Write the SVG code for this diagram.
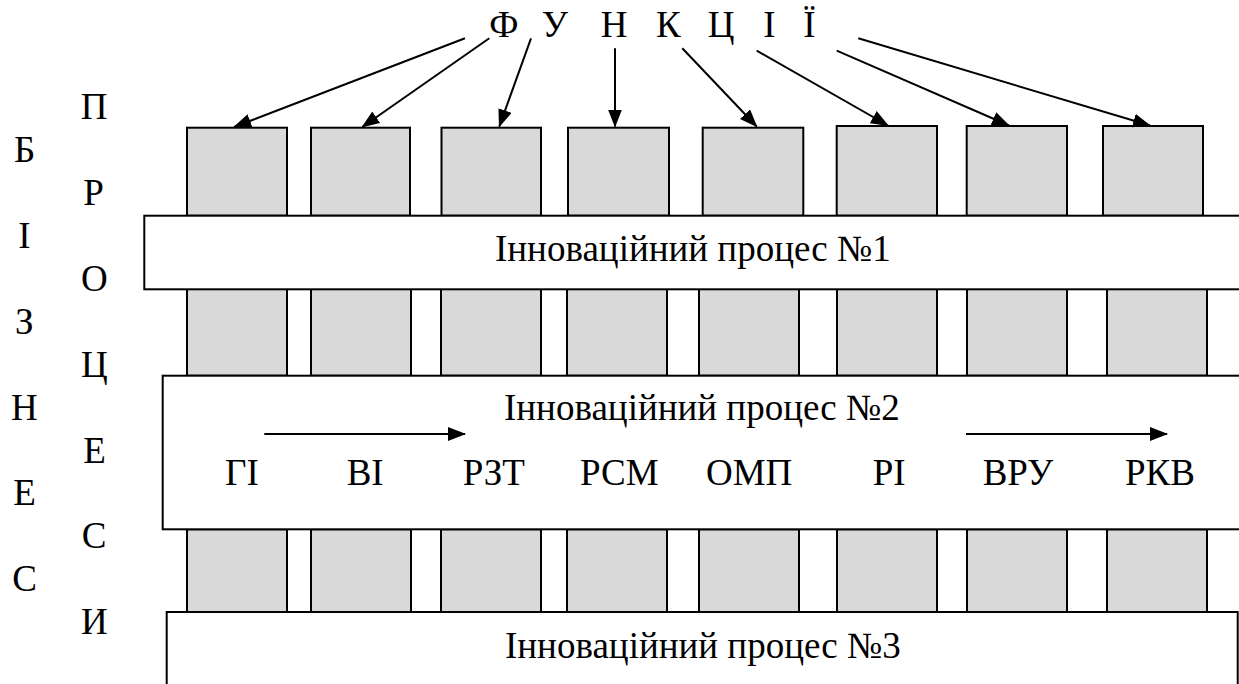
<svg xmlns="http://www.w3.org/2000/svg" width="1239" height="684" viewBox="0 0 1239 684" xml:lang="uk">
<defs>
<style>
svg g text{font-family:'Liberation Serif','Times New Roman',serif !important;font-size:37px;fill:#000;}
</style>
<marker id="ah" markerUnits="userSpaceOnUse" markerWidth="18" markerHeight="14" refX="17" refY="7" orient="auto">
<path d="M0,0 L18,7 L0,14 Z" fill="#000"/>
</marker>
</defs>
<rect width="1239" height="684" fill="#fff"/>

<g id="boxes" fill="#d9d9d9" stroke="#000" stroke-width="2">
<g id="row1">
<rect x="187" y="127.7" width="100" height="88"/>
<rect x="311" y="127.7" width="99" height="88"/>
<rect x="441.5" y="127.7" width="99.5" height="88"/>
<rect x="568" y="127.7" width="101" height="88"/>
<rect x="702.7" y="127.7" width="100.6" height="88"/>
<rect x="836.7" y="126" width="100.3" height="89.7"/>
<rect x="966.7" y="126" width="100.3" height="89.7"/>
<rect x="1103" y="126" width="100" height="89.7"/>
</g>
<g id="row2">
<rect x="187" y="289" width="100" height="86.7"/>
<rect x="311" y="289" width="100" height="86.7"/>
<rect x="441" y="289" width="100" height="86.7"/>
<rect x="567" y="289" width="100" height="86.7"/>
<rect x="699" y="289" width="100" height="86.7"/>
<rect x="837" y="289" width="100" height="86.7"/>
<rect x="967" y="289" width="100" height="86.7"/>
<rect x="1107" y="289" width="100" height="86.7"/>
</g>
<g id="row3">
<rect x="187" y="529.3" width="100" height="82.7"/>
<rect x="311" y="529.3" width="100" height="82.7"/>
<rect x="441" y="529.3" width="100" height="82.7"/>
<rect x="567" y="529.3" width="100" height="82.7"/>
<rect x="699" y="529.3" width="100" height="82.7"/>
<rect x="837" y="529.3" width="100" height="82.7"/>
<rect x="967" y="529.3" width="100" height="82.7"/>
<rect x="1107" y="529.3" width="100" height="82.7"/>
</g>
</g>

<g id="process1">
<rect x="144.3" y="215.7" width="1110" height="73.6" fill="#fff" stroke="#000" stroke-width="2"/>
<text x="495" y="261" font-family="Liberation Serif" font-size="37" style="font-family:'Liberation Serif',serif !important">Інноваційний процес №1</text>
</g>
<g id="process2">
<rect x="162.7" y="375.7" width="1100" height="153.6" fill="#fff" stroke="#000" stroke-width="2"/>
<text x="504" y="420" font-family="Liberation Serif" font-size="37" style="font-family:'Liberation Serif',serif !important">Інноваційний процес №2</text>
<text x="225" y="485" font-family="Liberation Serif" font-size="37" style="font-family:'Liberation Serif',serif !important">ГІ</text>
<text x="346.7" y="485" font-family="Liberation Serif" font-size="37" style="font-family:'Liberation Serif',serif !important">ВІ</text>
<text x="462.7" y="485" font-family="Liberation Serif" font-size="37" style="font-family:'Liberation Serif',serif !important">РЗТ</text>
<text x="580" y="485" font-family="Liberation Serif" font-size="37" style="font-family:'Liberation Serif',serif !important">РСМ</text>
<text x="706" y="485" font-family="Liberation Serif" font-size="37" style="font-family:'Liberation Serif',serif !important">ОМП</text>
<text x="872.7" y="485" font-family="Liberation Serif" font-size="37" style="font-family:'Liberation Serif',serif !important">РІ</text>
<text x="982.7" y="485" font-family="Liberation Serif" font-size="37" style="font-family:'Liberation Serif',serif !important">ВРУ</text>
<text x="1125" y="485" font-family="Liberation Serif" font-size="37" style="font-family:'Liberation Serif',serif !important">РКВ</text>
</g>
<g id="process3">
<rect x="166.7" y="612" width="1071" height="90" fill="#fff" stroke="#000" stroke-width="2"/>
<text x="505" y="658" font-family="Liberation Serif" font-size="37" style="font-family:'Liberation Serif',serif !important">Інноваційний процес №3</text>
</g>

<g id="functions">
<text x="489.3" y="37" font-family="Liberation Serif" font-size="37" style="font-family:'Liberation Serif',serif !important">Ф</text>
<text x="541.7" y="37" font-family="Liberation Serif" font-size="37" style="font-family:'Liberation Serif',serif !important">У</text>
<text x="600.7" y="37" font-family="Liberation Serif" font-size="37" style="font-family:'Liberation Serif',serif !important">Н</text>
<text x="656" y="37" font-family="Liberation Serif" font-size="37" style="font-family:'Liberation Serif',serif !important">К</text>
<text x="707.7" y="37" font-family="Liberation Serif" font-size="37" style="font-family:'Liberation Serif',serif !important">Ц</text>
<text x="763.3" y="37" font-family="Liberation Serif" font-size="37" style="font-family:'Liberation Serif',serif !important">І</text>
<text x="803.3" y="37" font-family="Liberation Serif" font-size="37" style="font-family:'Liberation Serif',serif !important">Ї</text>
</g>

<g id="business">
<text x="14" y="162.2" font-family="Liberation Serif" font-size="37" style="font-family:'Liberation Serif',serif !important">Б</text>
<text x="18.3" y="248" font-family="Liberation Serif" font-size="37" style="font-family:'Liberation Serif',serif !important">І</text>
<text x="15" y="333.8" font-family="Liberation Serif" font-size="37" style="font-family:'Liberation Serif',serif !important">З</text>
<text x="11" y="419.6" font-family="Liberation Serif" font-size="37" style="font-family:'Liberation Serif',serif !important">Н</text>
<text x="13.3" y="505.4" font-family="Liberation Serif" font-size="37" style="font-family:'Liberation Serif',serif !important">Е</text>
<text x="12.3" y="591.2" font-family="Liberation Serif" font-size="37" style="font-family:'Liberation Serif',serif !important">С</text>
</g>
<g id="processes">
<text x="80.7" y="119.3" font-family="Liberation Serif" font-size="37" style="font-family:'Liberation Serif',serif !important">П</text>
<text x="83.3" y="205.1" font-family="Liberation Serif" font-size="37" style="font-family:'Liberation Serif',serif !important">Р</text>
<text x="81" y="290.9" font-family="Liberation Serif" font-size="37" style="font-family:'Liberation Serif',serif !important">О</text>
<text x="81" y="376.7" font-family="Liberation Serif" font-size="37" style="font-family:'Liberation Serif',serif !important">Ц</text>
<text x="83.3" y="462.5" font-family="Liberation Serif" font-size="37" style="font-family:'Liberation Serif',serif !important">Е</text>
<text x="81.7" y="548.3" font-family="Liberation Serif" font-size="37" style="font-family:'Liberation Serif',serif !important">С</text>
<text x="81" y="634.1" font-family="Liberation Serif" font-size="37" style="font-family:'Liberation Serif',serif !important">И</text>
</g>

<g id="connectors" stroke="#000" stroke-width="2" fill="none" marker-end="url(#ah)">
<line x1="465" y1="38.3" x2="234.2" y2="127"/>
<line x1="489.3" y1="38.3" x2="362.3" y2="127"/>
<line x1="531" y1="38.3" x2="499.3" y2="126.5"/>
<line x1="615" y1="48.3" x2="615" y2="126.5"/>
<line x1="682.3" y1="48.3" x2="756.7" y2="126.5"/>
<line x1="756.7" y1="50.7" x2="888" y2="125.5"/>
<line x1="836.7" y1="50.7" x2="1009" y2="125.5"/>
<line x1="858.3" y1="38.3" x2="1150" y2="125.5"/>
<line x1="264.3" y1="434" x2="465" y2="434"/>
<line x1="966" y1="434" x2="1167" y2="434"/>
</g>
</svg>
